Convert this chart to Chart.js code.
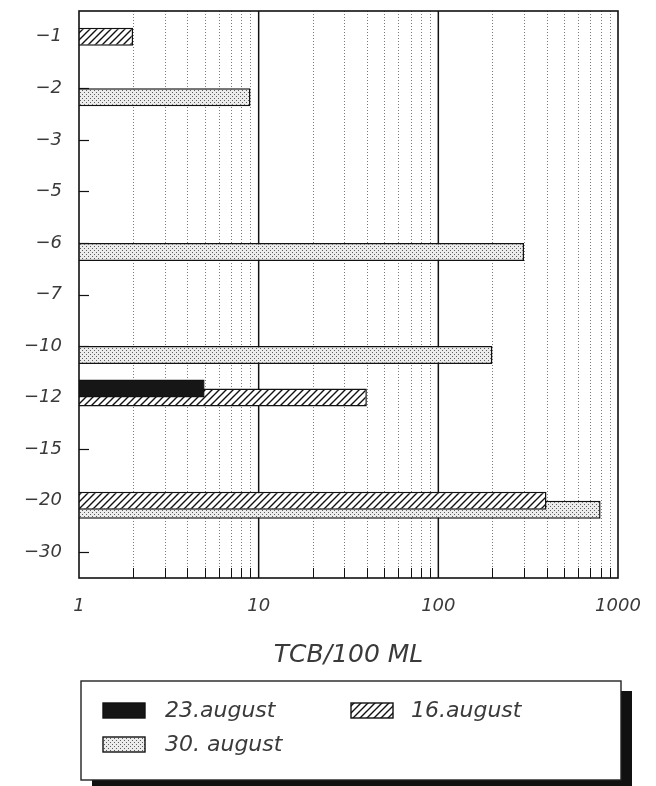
<!DOCTYPE html>
<html>
<head>
<meta charset="utf-8">
<script src="https://cdn.jsdelivr.net/npm/chart.js@4.4.0/dist/chart.umd.min.js"></script>
<style>
html,body{margin:0;padding:0;background:#fff;}
#wrap{width:656px;height:786px;position:relative;}
canvas{display:block;}
</style>
</head>
<body>
<div id="wrap"><canvas id="c" width="656" height="786"></canvas></div>
<script>
// ---- data ----
const categories = ['\u22121','\u22122','\u22123','\u22125','\u22126','\u22127','\u221210','\u221212','\u221215','\u221220','\u221230'];
const aug23 = [null, null, null, null, null, null, null, 5, null, null, null];
const aug16 = [2, null, null, null, null, null, null, 40, null, 400, null];
const aug30 = [null, 9, null, null, 300, null, 200, null, null, 800, null];
const seriesNames = ['23.august', '16.august', '30. august'];
const xTickLabels = [1, 10, 100, 1000];
const xTitle = 'TCB/100 ML';

// ---- patterns ----
function makeHatch() {
  const s = 7;
  const t = document.createElement('canvas');
  t.width = s; t.height = s;
  const g = t.getContext('2d');
  g.fillStyle = '#fff'; g.fillRect(0, 0, s, s);
  g.strokeStyle = '#111'; g.lineWidth = 1.4;
  g.beginPath();
  g.moveTo(-1, s + 1); g.lineTo(s + 1, -1);
  g.moveTo(-1, 1); g.lineTo(1, -1);
  g.moveTo(s - 1, s + 1); g.lineTo(s + 1, s - 1);
  g.stroke();
  return g.createPattern(t, 'repeat');
}
function makeDots() {
  const t = document.createElement('canvas');
  t.width = 4; t.height = 4;
  const g = t.getContext('2d');
  g.fillStyle = '#ececec'; g.fillRect(0, 0, 4, 4);
  g.fillStyle = '#5e5e5e';
  g.fillRect(0, 0, 1, 1);
  g.fillRect(2, 2, 1, 1);
  return g.createPattern(t, 'repeat');
}
const ctx0 = document.getElementById('c').getContext('2d');
const hatchFill = makeHatch();
const dotFill = makeDots();
const blackFill = '#161616';
const fills = [blackFill, hatchFill, dotFill];

const tickFont = { family: "'DejaVu Sans'", size: 18, style: 'italic', weight: 'normal' };
const textColor = '#3a3a3a';

const decorPlugin = {
  id: 'decor',
  beforeDatasetsDraw(chart) {
    const { ctx, chartArea: a, scales: { x, y } } = chart;
    ctx.save();
    for (let i = 0; i < xTickLabels.length - 1; i++) {
      const d = xTickLabels[i];
      for (let k = 2; k <= 9; k++) {
        const px = Math.round(x.getPixelForValue(d * k)) + 0.5;
        ctx.strokeStyle = '#7a7a7a';
        ctx.lineWidth = 1;
        ctx.setLineDash([1, 2]);
        ctx.beginPath(); ctx.moveTo(px, a.top); ctx.lineTo(px, a.bottom); ctx.stroke();
        ctx.setLineDash([]);
        ctx.strokeStyle = '#111';
        ctx.beginPath(); ctx.moveTo(px, a.bottom); ctx.lineTo(px, a.bottom - 10); ctx.stroke();
      }
    }
    ctx.strokeStyle = '#111';
    ctx.lineWidth = 1.5;
    for (let i = 1; i < xTickLabels.length - 1; i++) {
      const px = x.getPixelForValue(xTickLabels[i]);
      ctx.beginPath(); ctx.moveTo(px, a.top); ctx.lineTo(px, a.bottom); ctx.stroke();
    }
    ctx.lineWidth = 1.2;
    for (let i = 0; i < categories.length; i++) {
      const py = Math.round(y.getPixelForValue(i)) + 0.5;
      ctx.beginPath(); ctx.moveTo(a.left, py); ctx.lineTo(a.left + 10, py); ctx.stroke();
    }
    ctx.restore();
  },
  afterDatasetsDraw(chart) {
    const { ctx, chartArea: a } = chart;
    ctx.save();
    ctx.strokeStyle = '#111';
    ctx.lineWidth = 1.6;
    ctx.strokeRect(a.left, a.top, a.right - a.left, a.bottom - a.top);
    ctx.restore();
  },
  afterDraw(chart) {
    const { ctx } = chart;
    ctx.save();
    const bx = 81, by = 681, bw = 540, bh = 99;
    ctx.fillStyle = '#111';
    ctx.fillRect(bx + 11, by + 10, bw, bh);
    ctx.fillStyle = '#fff';
    ctx.fillRect(bx, by, bw, bh);
    ctx.strokeStyle = '#222';
    ctx.lineWidth = 1.4;
    ctx.strokeRect(bx, by, bw, bh);
    const items = [
      { sx: 103, sy: 703, tx: 165, ty: 711 },
      { sx: 351, sy: 703, tx: 411, ty: 711 },
      { sx: 103, sy: 737, tx: 165, ty: 745 }
    ];
    ctx.font = "italic 22px 'DejaVu Sans'";
    ctx.textBaseline = 'middle';
    ctx.textAlign = 'left';
    items.forEach((it, i) => {
      ctx.fillStyle = fills[i];
      ctx.fillRect(it.sx, it.sy, 42, 15);
      ctx.strokeStyle = '#111';
      ctx.lineWidth = 1.4;
      ctx.strokeRect(it.sx, it.sy, 42, 15);
      ctx.fillStyle = textColor;
      ctx.fillText(seriesNames[i], it.tx, it.ty);
    });
    ctx.restore();
  }
};

const datasets = [aug23, aug16, aug30].map((vals, i) => ({
  label: seriesNames[i],
  data: vals,
  backgroundColor: fills[i],
  borderColor: '#111',
  borderWidth: 1.5,
  borderSkipped: 'start',
  categoryPercentage: 0.524,
  barPercentage: 2
}));

new Chart(ctx0, {
  type: 'bar',
  data: { labels: categories, datasets },
  options: {
    indexAxis: 'y',
    responsive: false,
    animation: false,
    devicePixelRatio: 1,
    layout: { padding: { top: 11, right: 38, bottom: 116, left: 0 } },
    plugins: { legend: { display: false }, tooltip: { enabled: false } },
    scales: {
      x: {
        type: 'logarithmic',
        min: 1,
        max: 1000,
        grid: { display: false, drawTicks: false },
        border: { display: false },
        ticks: {
          autoSkip: false,
          maxRotation: 0,
          padding: 18,
          color: textColor,
          font: tickFont,
          callback: (v) => {
            const hit = xTickLabels.find(t => Math.abs(v - t) / t < 1e-6);
            return hit !== undefined ? String(hit) : '';
          }
        },
        title: {
          display: true,
          text: xTitle,
          color: textColor,
          font: { family: "'DejaVu Sans'", size: 25, style: 'italic', weight: 'normal' },
          padding: { top: 0, bottom: 0 }
        },
        afterFit: (s) => { s.height = 92; s.paddingLeft = 0; s.paddingRight = 0; }
      },
      y: {
        type: 'category',
        grid: { display: false, drawTicks: false },
        border: { display: false },
        ticks: { padding: 17, color: textColor, font: tickFont },
        afterFit: (s) => { s.width = 79; s.paddingTop = 0; s.paddingBottom = 0; }
      }
    }
  },
  plugins: [decorPlugin]
});
</script>
</body>
</html>
